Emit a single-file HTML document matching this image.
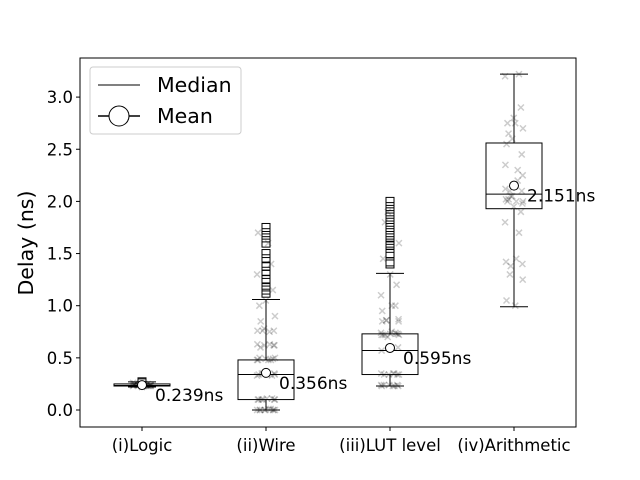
<!DOCTYPE html>
<html><head><meta charset="utf-8"><style>body{margin:0;background:#fff}svg{display:block;font-family:"DejaVu Sans","Liberation Sans",sans-serif}</style></head>
<body>
<svg id="chart" width="640" height="480"></svg>
<script>
const categories=["(i)Logic","(ii)Wire","(iii)LUT level","(iv)Arithmetic"];
const q1=[0.23,0.10,0.34,1.93];
const medians=[0.235,0.34,0.57,2.07];
const q3=[0.25,0.48,0.73,2.56];
const whiskLo=[0.22,0.0,0.23,0.99];
const whiskHi=[0.27,1.06,1.31,3.22];
const means=[0.239,0.356,0.595,2.151];
const meanLabels=["0.239ns","0.356ns","0.595ns","2.151ns"];
const outliers=[[0.27,0.26],[1.12,1.15,1.18,1.25,1.3,1.33,1.38,1.45,1.5,1.6,1.65,1.7,1.75],[1.4,1.42,1.5,1.55,1.58,1.6,1.65,1.7,1.75,1.8,1.85,1.9,1.95,2.0],[]];
const samples=[
[0.22,0.23,0.23,0.23,0.23,0.24,0.24,0.24,0.24,0.24,0.25,0.25,0.25,0.26,0.23,0.24,0.25,0.23,0.24,0.24,0.23,0.24,0.25,0.24],
[0,0,0,0,0,0,0,0,0.01,0.01,0.1,0.1,0.1,0.1,0.1,0.1,0.11,0.11,0.33,0.33,0.34,0.34,0.34,0.35,0.35,0.35,0.48,0.48,0.48,0.48,0.49,0.49,0.5,0.5,0.6,0.62,0.62,0.63,0.63,0.75,0.76,0.76,0.78,0.85,0.9,1.0,1.05,1.15,1.3,1.4,1.6,1.7,0.62,0.76],
[0.23,0.23,0.23,0.23,0.24,0.24,0.24,0.24,0.34,0.34,0.34,0.34,0.35,0.35,0.35,0.57,0.6,0.7,0.72,0.72,0.72,0.73,0.73,0.74,0.74,0.75,0.85,0.85,0.86,0.86,0.87,0.95,1.0,1.0,1.1,1.2,1.3,1.45,1.6,1.8,1.9,0.73,0.72],
[1.0,1.05,1.25,1.3,1.38,1.4,1.42,1.45,1.7,1.8,1.9,1.95,2.0,2.0,2.02,2.05,2.1,2.12,2.2,2.3,2.35,2.45,2.6,2.65,2.7,2.75,2.8,2.9,3.2,3.22,2.0,2.02,1.98,2.05,2.1,2.25,2.55,2.75]];
const yTicks=[0,0.5,1,1.5,2,2.5,3];
const NS="http://www.w3.org/2000/svg",svg=document.getElementById('chart');
const L=80,R=576,T=58,B=427;
const y=v=>410-104.3*v, x=i=>142+124*i;
function el(t,a,p){const e=document.createElementNS(NS,t);for(const k in a)e.setAttribute(k,a[k]);(p||svg).appendChild(e);return e;}
samples.forEach((arr,i)=>arr.forEach((v,j)=>{const cx=x(i)+Math.sin(j*2.3+i)*9,cy=y(v);
const g=el('path',{d:`M${cx-3} ${cy-3}L${cx+3} ${cy+3}M${cx-3} ${cy+3}L${cx+3} ${cy-3}`,stroke:'#000','stroke-opacity':0.2,'stroke-width':1.5});

}));
categories.forEach((c,i)=>{
const cx=x(i);
const w1=el('line',{x1:cx,x2:cx,y1:y(whiskLo[i]),y2:y(q1[i]),stroke:'#000'});
const w2=el('line',{x1:cx,x2:cx,y1:y(whiskHi[i]),y2:y(q3[i]),stroke:'#000'});
[whiskLo[i],whiskHi[i]].forEach(v=>{const cp=el('line',{x1:cx-14,x2:cx+14,y1:y(v),y2:y(v),stroke:'#000'});});
const b=el('rect',{x:cx-28,y:y(q3[i]),width:56,height:y(q1[i])-y(q3[i]),fill:'none',stroke:'#000'});
const m=el('line',{x1:cx-28,x2:cx+28,y1:y(medians[i]),y2:y(medians[i]),stroke:'#000'});
outliers[i].forEach(v=>{const o=el('rect',{x:cx-4,y:y(v)-4,width:8,height:8,fill:'none',stroke:'#000'});});
const mc=el('circle',{cx:cx,cy:y(means[i]),r:4.5,fill:'#fff',stroke:'#000'});
const ml=el('text',{x:cx+13,y:y(means[i])+16,'font-size':17});ml.textContent=meanLabels[i];
const tk=el('line',{x1:cx,x2:cx,y1:B,y2:B+4,stroke:'#000'});
const tl=el('text',{x:cx,y:B+24,'font-size':16.5,'text-anchor':'middle'});tl.textContent=c;
});
yTicks.forEach(v=>{const tk=el('line',{x1:L-4,x2:L,y1:y(v),y2:y(v),stroke:'#000'});
const t=el('text',{x:L-7,y:y(v)+6,'font-size':16.5,'text-anchor':'end'});t.textContent=v.toFixed(1);});
const fr=el('rect',{x:L,y:T,width:R-L,height:B-T,fill:'none',stroke:'#000'});
const yl=el('text',{x:0,y:0,'font-size':20.5,'text-anchor':'middle',transform:'translate(33,243) rotate(-90)'});yl.textContent='Delay (ns)';
const lg=el('g',{});
el('rect',{x:90,y:67,width:151,height:67,rx:3,fill:'#fff',stroke:'#ccc'},lg);
el('line',{x1:98,x2:140,y1:85,y2:85,stroke:'#000'},lg);
const t1=el('text',{x:157,y:92,'font-size':20.5},lg);t1.textContent='Median';
el('line',{x1:98,x2:140,y1:116,y2:116,stroke:'#000','stroke-width':1.5},lg);
el('circle',{cx:119,cy:116,r:10,fill:'#fff',stroke:'#000'},lg);
const t2=el('text',{x:157,y:123,'font-size':20.5},lg);t2.textContent='Mean';
</script>
</body></html>
